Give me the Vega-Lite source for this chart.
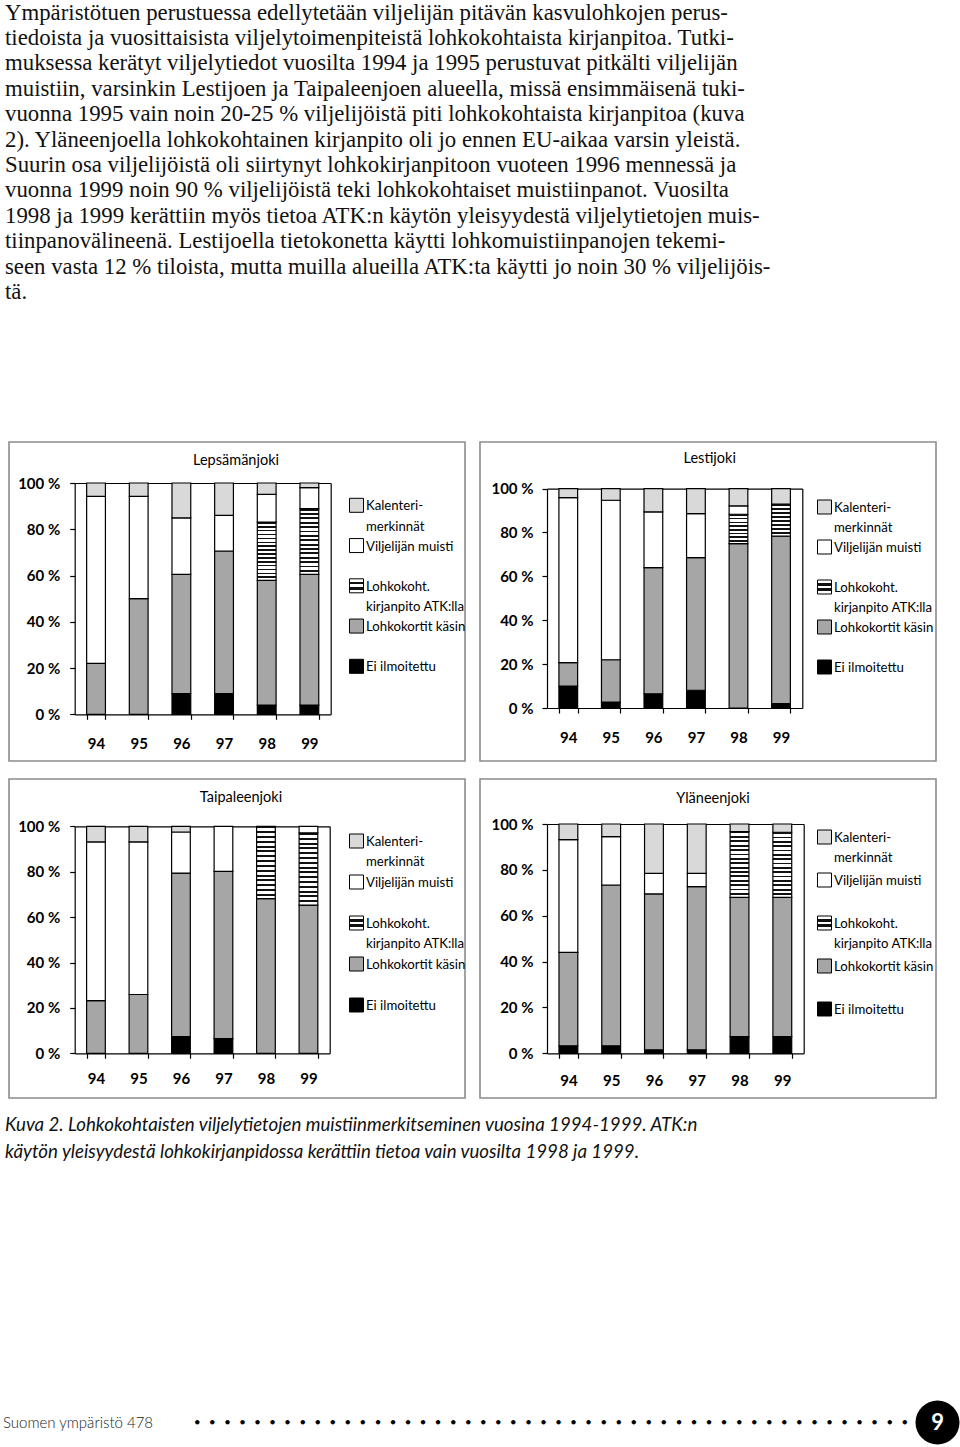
{
"$schema": "https://vega.github.io/schema/vega-lite/v6.json",
"background": "white",
"padding": {"left": 2, "top": 1, "right": 0, "bottom": 0},
"title": {"text": ["Ympäristötuen perustuessa edellytetään viljelijän pitävän kasvulohkojen perus-", "tiedoista ja vuosittaisista viljelytoimenpiteistä lohkokohtaista kirjanpitoa. Tutki-", "muksessa kerätyt viljelytiedot vuosilta 1994 ja 1995 perustuvat pitkälti viljelijän", "muistiin, varsinkin Lestijoen ja Taipaleenjoen alueella, missä ensimmäisenä tuki-", "vuonna 1995 vain noin 20-25 % viljelijöistä piti lohkokohtaista kirjanpitoa (kuva", "2). Yläneenjoella lohkokohtainen kirjanpito oli jo ennen EU-aikaa varsin yleistä.", "Suurin osa viljelijöistä oli siirtynyt lohkokirjanpitoon vuoteen 1996 mennessä ja", "vuonna 1999 noin 90 % viljelijöistä teki lohkokohtaiset muistiinpanot.  Vuosilta", "1998 ja 1999 kerättiin myös tietoa ATK:n käytön yleisyydestä viljelytietojen muis-", "tiinpanovälineenä. Lestijoella tietokonetta käytti lohkomuistiinpanojen tekemi-", "seen vasta 12 % tiloista, mutta muilla alueilla ATK:ta käytti jo noin 30 % viljelijöis-", "tä."], "anchor": "start", "orient": "top", "frame": "group", "baseline": "bottom", "offset": 114.4, "dx": -4, "font": "Liberation Serif", "fontSize": 22.8, "fontWeight": "normal", "lineHeight": 25.4, "color": "#111"},
"datasets": {
"bars": [
{"region": "Lepsämänjoki", "year": "94", "category": "Lohkokortit käsin", "order": 2, "pct": 22},
{"region": "Lepsämänjoki", "year": "94", "category": "Viljelijän muisti", "order": 4, "pct": 72.2},
{"region": "Lepsämänjoki", "year": "94", "category": "Kalenterimerkinnät", "order": 5, "pct": 5.8},
{"region": "Lepsämänjoki", "year": "95", "category": "Lohkokortit käsin", "order": 2, "pct": 50},
{"region": "Lepsämänjoki", "year": "95", "category": "Viljelijän muisti", "order": 4, "pct": 44.2},
{"region": "Lepsämänjoki", "year": "95", "category": "Kalenterimerkinnät", "order": 5, "pct": 5.8},
{"region": "Lepsämänjoki", "year": "96", "category": "Ei ilmoitettu", "order": 1, "pct": 9},
{"region": "Lepsämänjoki", "year": "96", "category": "Lohkokortit käsin", "order": 2, "pct": 51.5},
{"region": "Lepsämänjoki", "year": "96", "category": "Viljelijän muisti", "order": 4, "pct": 24.4},
{"region": "Lepsämänjoki", "year": "96", "category": "Kalenterimerkinnät", "order": 5, "pct": 15.1},
{"region": "Lepsämänjoki", "year": "97", "category": "Ei ilmoitettu", "order": 1, "pct": 9},
{"region": "Lepsämänjoki", "year": "97", "category": "Lohkokortit käsin", "order": 2, "pct": 61.6},
{"region": "Lepsämänjoki", "year": "97", "category": "Viljelijän muisti", "order": 4, "pct": 15.4},
{"region": "Lepsämänjoki", "year": "97", "category": "Kalenterimerkinnät", "order": 5, "pct": 14},
{"region": "Lepsämänjoki", "year": "98", "category": "Ei ilmoitettu", "order": 1, "pct": 4},
{"region": "Lepsämänjoki", "year": "98", "category": "Lohkokortit käsin", "order": 2, "pct": 53.9},
{"region": "Lepsämänjoki", "year": "98", "category": "Lohkokoht. kirjanpito ATK:lla", "order": 3, "pct": 25.2},
{"region": "Lepsämänjoki", "year": "98", "category": "Viljelijän muisti", "order": 4, "pct": 12},
{"region": "Lepsämänjoki", "year": "98", "category": "Kalenterimerkinnät", "order": 5, "pct": 4.9},
{"region": "Lepsämänjoki", "year": "99", "category": "Ei ilmoitettu", "order": 1, "pct": 4},
{"region": "Lepsämänjoki", "year": "99", "category": "Lohkokortit käsin", "order": 2, "pct": 56.5},
{"region": "Lepsämänjoki", "year": "99", "category": "Lohkokoht. kirjanpito ATK:lla", "order": 3, "pct": 28.4},
{"region": "Lepsämänjoki", "year": "99", "category": "Viljelijän muisti", "order": 4, "pct": 9.1},
{"region": "Lepsämänjoki", "year": "99", "category": "Kalenterimerkinnät", "order": 5, "pct": 2},
{"region": "Lestijoki", "year": "94", "category": "Ei ilmoitettu", "order": 1, "pct": 10},
{"region": "Lestijoki", "year": "94", "category": "Lohkokortit käsin", "order": 2, "pct": 10.7},
{"region": "Lestijoki", "year": "94", "category": "Viljelijän muisti", "order": 4, "pct": 75.2},
{"region": "Lestijoki", "year": "94", "category": "Kalenterimerkinnät", "order": 5, "pct": 4.1},
{"region": "Lestijoki", "year": "95", "category": "Ei ilmoitettu", "order": 1, "pct": 2.7},
{"region": "Lestijoki", "year": "95", "category": "Lohkokortit käsin", "order": 2, "pct": 19.3},
{"region": "Lestijoki", "year": "95", "category": "Viljelijän muisti", "order": 4, "pct": 72.7},
{"region": "Lestijoki", "year": "95", "category": "Kalenterimerkinnät", "order": 5, "pct": 5.3},
{"region": "Lestijoki", "year": "96", "category": "Ei ilmoitettu", "order": 1, "pct": 6.5},
{"region": "Lestijoki", "year": "96", "category": "Lohkokortit käsin", "order": 2, "pct": 57.5},
{"region": "Lestijoki", "year": "96", "category": "Viljelijän muisti", "order": 4, "pct": 25.4},
{"region": "Lestijoki", "year": "96", "category": "Kalenterimerkinnät", "order": 5, "pct": 10.6},
{"region": "Lestijoki", "year": "97", "category": "Ei ilmoitettu", "order": 1, "pct": 8.1},
{"region": "Lestijoki", "year": "97", "category": "Lohkokortit käsin", "order": 2, "pct": 60.4},
{"region": "Lestijoki", "year": "97", "category": "Viljelijän muisti", "order": 4, "pct": 20.1},
{"region": "Lestijoki", "year": "97", "category": "Kalenterimerkinnät", "order": 5, "pct": 11.4},
{"region": "Lestijoki", "year": "98", "category": "Lohkokortit käsin", "order": 2, "pct": 74.9},
{"region": "Lestijoki", "year": "98", "category": "Lohkokoht. kirjanpito ATK:lla", "order": 3, "pct": 13.4},
{"region": "Lestijoki", "year": "98", "category": "Viljelijän muisti", "order": 4, "pct": 3.8},
{"region": "Lestijoki", "year": "98", "category": "Kalenterimerkinnät", "order": 5, "pct": 7.9},
{"region": "Lestijoki", "year": "99", "category": "Ei ilmoitettu", "order": 1, "pct": 2},
{"region": "Lestijoki", "year": "99", "category": "Lohkokortit käsin", "order": 2, "pct": 76.3},
{"region": "Lestijoki", "year": "99", "category": "Lohkokoht. kirjanpito ATK:lla", "order": 3, "pct": 14.6},
{"region": "Lestijoki", "year": "99", "category": "Kalenterimerkinnät", "order": 5, "pct": 7.1},
{"region": "Taipaleenjoki", "year": "94", "category": "Lohkokortit käsin", "order": 2, "pct": 23.2},
{"region": "Taipaleenjoki", "year": "94", "category": "Viljelijän muisti", "order": 4, "pct": 69.9},
{"region": "Taipaleenjoki", "year": "94", "category": "Kalenterimerkinnät", "order": 5, "pct": 6.9},
{"region": "Taipaleenjoki", "year": "95", "category": "Lohkokortit käsin", "order": 2, "pct": 25.9},
{"region": "Taipaleenjoki", "year": "95", "category": "Viljelijän muisti", "order": 4, "pct": 67.2},
{"region": "Taipaleenjoki", "year": "95", "category": "Kalenterimerkinnät", "order": 5, "pct": 6.9},
{"region": "Taipaleenjoki", "year": "96", "category": "Ei ilmoitettu", "order": 1, "pct": 7.4},
{"region": "Taipaleenjoki", "year": "96", "category": "Lohkokortit käsin", "order": 2, "pct": 72},
{"region": "Taipaleenjoki", "year": "96", "category": "Viljelijän muisti", "order": 4, "pct": 18.1},
{"region": "Taipaleenjoki", "year": "96", "category": "Kalenterimerkinnät", "order": 5, "pct": 2.5},
{"region": "Taipaleenjoki", "year": "97", "category": "Ei ilmoitettu", "order": 1, "pct": 6.5},
{"region": "Taipaleenjoki", "year": "97", "category": "Lohkokortit käsin", "order": 2, "pct": 73.6},
{"region": "Taipaleenjoki", "year": "97", "category": "Viljelijän muisti", "order": 4, "pct": 19.9},
{"region": "Taipaleenjoki", "year": "98", "category": "Lohkokortit käsin", "order": 2, "pct": 68.1},
{"region": "Taipaleenjoki", "year": "98", "category": "Lohkokoht. kirjanpito ATK:lla", "order": 3, "pct": 31.9},
{"region": "Taipaleenjoki", "year": "99", "category": "Lohkokortit käsin", "order": 2, "pct": 65.3},
{"region": "Taipaleenjoki", "year": "99", "category": "Lohkokoht. kirjanpito ATK:lla", "order": 3, "pct": 31.8},
{"region": "Taipaleenjoki", "year": "99", "category": "Viljelijän muisti", "order": 4, "pct": 2.9},
{"region": "Yläneenjoki", "year": "94", "category": "Ei ilmoitettu", "order": 1, "pct": 3.3},
{"region": "Yläneenjoki", "year": "94", "category": "Lohkokortit käsin", "order": 2, "pct": 40.7},
{"region": "Yläneenjoki", "year": "94", "category": "Viljelijän muisti", "order": 4, "pct": 49.2},
{"region": "Yläneenjoki", "year": "94", "category": "Kalenterimerkinnät", "order": 5, "pct": 6.8},
{"region": "Yläneenjoki", "year": "95", "category": "Ei ilmoitettu", "order": 1, "pct": 3.3},
{"region": "Yläneenjoki", "year": "95", "category": "Lohkokortit käsin", "order": 2, "pct": 70.1},
{"region": "Yläneenjoki", "year": "95", "category": "Viljelijän muisti", "order": 4, "pct": 21.1},
{"region": "Yläneenjoki", "year": "95", "category": "Kalenterimerkinnät", "order": 5, "pct": 5.5},
{"region": "Yläneenjoki", "year": "96", "category": "Ei ilmoitettu", "order": 1, "pct": 1.5},
{"region": "Yläneenjoki", "year": "96", "category": "Lohkokortit käsin", "order": 2, "pct": 68},
{"region": "Yläneenjoki", "year": "96", "category": "Viljelijän muisti", "order": 4, "pct": 9},
{"region": "Yläneenjoki", "year": "96", "category": "Kalenterimerkinnät", "order": 5, "pct": 21.5},
{"region": "Yläneenjoki", "year": "97", "category": "Ei ilmoitettu", "order": 1, "pct": 1.5},
{"region": "Yläneenjoki", "year": "97", "category": "Lohkokortit käsin", "order": 2, "pct": 71.2},
{"region": "Yläneenjoki", "year": "97", "category": "Viljelijän muisti", "order": 4, "pct": 5.8},
{"region": "Yläneenjoki", "year": "97", "category": "Kalenterimerkinnät", "order": 5, "pct": 21.5},
{"region": "Yläneenjoki", "year": "98", "category": "Ei ilmoitettu", "order": 1, "pct": 7.3},
{"region": "Yläneenjoki", "year": "98", "category": "Lohkokortit käsin", "order": 2, "pct": 60.7},
{"region": "Yläneenjoki", "year": "98", "category": "Lohkokoht. kirjanpito ATK:lla", "order": 3, "pct": 28.7},
{"region": "Yläneenjoki", "year": "98", "category": "Kalenterimerkinnät", "order": 5, "pct": 3.3},
{"region": "Yläneenjoki", "year": "99", "category": "Ei ilmoitettu", "order": 1, "pct": 7.3},
{"region": "Yläneenjoki", "year": "99", "category": "Lohkokortit käsin", "order": 2, "pct": 60.7},
{"region": "Yläneenjoki", "year": "99", "category": "Lohkokoht. kirjanpito ATK:lla", "order": 3, "pct": 28.4},
{"region": "Yläneenjoki", "year": "99", "category": "Kalenterimerkinnät", "order": 5, "pct": 3.6}
],
"legend": [
{"category": "Kalenterimerkinnät", "label": "Kalenteri-\nmerkinnät"},
{"category": "Viljelijän muisti", "label": "Viljelijän muisti"},
{"category": "Lohkokoht. kirjanpito ATK:lla", "label": "Lohkokoht.\nkirjanpito ATK:lla"},
{"category": "Lohkokortit käsin", "label": "Lohkokortit käsin"},
{"category": "Ei ilmoitettu", "label": "Ei ilmoitettu"}
]
},
"spacing": 238,
"vconcat": [
{"spacing": 16, "vconcat": [
{"spacing": 15, "bounds": "flush", "hconcat": [
{
"width": 456, "height": 319,
"view": {"stroke": "#8c8c8c", "strokeWidth": 1.6},
"title": {"text": "Lepsämänjoki", "anchor": "middle", "frame": "group", "baseline": "middle", "offset": -18.3, "dy": 15.3, "dx": -1},
"resolve": {"scale": {"x": "independent", "y": "independent"}, "axis": {"x": "independent", "y": "independent"}},
"layer": [
{"data": {"name": "bars"},
"transform": [{"filter": "datum.region === 'Lepsämänjoki'"}, {"stack": "pct", "groupby": ["year"], "sort": [{"field": "order", "order": "ascending"}], "as": ["lo", "hi"]}],
"mark": {"type": "bar", "stroke": "#000", "strokeWidth": 1.2},
"encoding": {
"x": {"field": "year", "type": "ordinal", "scale": {"range": [65.7, 321.7], "paddingInner": 0.56, "paddingOuter": 0.28}, "axis": {"orient": "bottom", "offset": -46.7, "tickBand": "extent", "tickSize": 5, "labelPadding": 17.6, "labelAngle": 0, "title": null}},
"y": {"field": "hi", "type": "quantitative", "scale": {"domain": [0, 100], "range": [272.3, 41], "nice": false, "zero": false}, "axis": {"orient": "left", "offset": -65.7, "values": [0, 20, 40, 60, 80, 100], "labelExpr": "datum.value + ' %'", "tickSize": 5, "labelPadding": 10, "title": null}},
"y2": {"field": "lo"},
"fill": {"field": "category", "type": "nominal", "scale": {"domain": ["Kalenterimerkinnät", "Viljelijän muisti", "Lohkokoht. kirjanpito ATK:lla", "Lohkokortit käsin", "Ei ilmoitettu"], "range": ["#d9d9d9", "#ffffff", "#ffffff", "#a6a6a6", "#000000"]}, "legend": null,
"condition": {"test": "datum.category === 'Lohkokoht. kirjanpito ATK:lla'", "value": {"gradient": "linear", "x1": 0, "y1": 0, "x2": 0, "y2": 1, "stops": [{"offset":0,"color":"#111"},{"offset":0.028,"color":"#111"},{"offset":0.028,"color":"#fff"},{"offset":0.0667,"color":"#fff"},{"offset":0.0667,"color":"#111"},{"offset":0.0947,"color":"#111"},{"offset":0.0947,"color":"#fff"},{"offset":0.1333,"color":"#fff"},{"offset":0.1333,"color":"#111"},{"offset":0.1613,"color":"#111"},{"offset":0.1613,"color":"#fff"},{"offset":0.2,"color":"#fff"},{"offset":0.2,"color":"#111"},{"offset":0.228,"color":"#111"},{"offset":0.228,"color":"#fff"},{"offset":0.2667,"color":"#fff"},{"offset":0.2667,"color":"#111"},{"offset":0.2947,"color":"#111"},{"offset":0.2947,"color":"#fff"},{"offset":0.3333,"color":"#fff"},{"offset":0.3333,"color":"#111"},{"offset":0.3613,"color":"#111"},{"offset":0.3613,"color":"#fff"},{"offset":0.4,"color":"#fff"},{"offset":0.4,"color":"#111"},{"offset":0.428,"color":"#111"},{"offset":0.428,"color":"#fff"},{"offset":0.4667,"color":"#fff"},{"offset":0.4667,"color":"#111"},{"offset":0.4947,"color":"#111"},{"offset":0.4947,"color":"#fff"},{"offset":0.5333,"color":"#fff"},{"offset":0.5333,"color":"#111"},{"offset":0.5613,"color":"#111"},{"offset":0.5613,"color":"#fff"},{"offset":0.6,"color":"#fff"},{"offset":0.6,"color":"#111"},{"offset":0.628,"color":"#111"},{"offset":0.628,"color":"#fff"},{"offset":0.6667,"color":"#fff"},{"offset":0.6667,"color":"#111"},{"offset":0.6947,"color":"#111"},{"offset":0.6947,"color":"#fff"},{"offset":0.7333,"color":"#fff"},{"offset":0.7333,"color":"#111"},{"offset":0.7613,"color":"#111"},{"offset":0.7613,"color":"#fff"},{"offset":0.8,"color":"#fff"},{"offset":0.8,"color":"#111"},{"offset":0.828,"color":"#111"},{"offset":0.828,"color":"#fff"},{"offset":0.8667,"color":"#fff"},{"offset":0.8667,"color":"#111"},{"offset":0.8947,"color":"#111"},{"offset":0.8947,"color":"#fff"},{"offset":0.9333,"color":"#fff"},{"offset":0.9333,"color":"#111"},{"offset":0.9613,"color":"#111"},{"offset":0.9613,"color":"#fff"},{"offset":1,"color":"#fff"}]}}}
}},
{"data": {"name": "bars"},
"transform": [{"filter": "datum.region === 'Lepsämänjoki'"}],
"mark": {"type": "point", "opacity": 0},
"encoding": {
"x": {"field": "year", "type": "ordinal", "scale": {"range": [65.7, 321.7], "paddingInner": 0.56, "paddingOuter": 0.28}, "axis": {"orient": "top", "offset": -41, "ticks": false, "labels": false, "title": null}},
"y": {"field": "pct", "type": "quantitative", "scale": {"domain": [0, 100], "range": [272.3, 41], "nice": false, "zero": false}, "axis": {"orient": "right", "offset": -134.3, "ticks": false, "labels": false, "title": null}}
}},
{"data": {"name": "legend"},
"mark": {"type": "square", "size": 196, "stroke": "#000", "strokeWidth": 1, "opacity": 1},
"encoding": {
"x": {"value": 347.5},
"y": {"field": "category", "type": "nominal", "scale": {"type": "point", "domain": ["Kalenterimerkinnät", "Viljelijän muisti", "Lohkokoht. kirjanpito ATK:lla", "Lohkokortit käsin", "Ei ilmoitettu"], "range": [63.3, 224.3], "padding": 0}, "axis": null},
"fill": {"field": "category", "type": "nominal", "scale": {"domain": ["Kalenterimerkinnät", "Viljelijän muisti", "Lohkokoht. kirjanpito ATK:lla", "Lohkokortit käsin", "Ei ilmoitettu"], "range": ["#d9d9d9", "#ffffff", "#ffffff", "#a6a6a6", "#000000"]}, "legend": null,
"condition": {"test": "datum.category === 'Lohkokoht. kirjanpito ATK:lla'", "value": {"gradient": "linear", "x1": 0, "y1": 0, "x2": 0, "y2": 1, "stops": [{"offset":0,"color":"#fff"},{"offset":0.22,"color":"#fff"},{"offset":0.22,"color":"#111"},{"offset":0.4,"color":"#111"},{"offset":0.4,"color":"#fff"},{"offset":0.6,"color":"#fff"},{"offset":0.6,"color":"#111"},{"offset":0.78,"color":"#111"},{"offset":0.78,"color":"#fff"},{"offset":1,"color":"#fff"}]}}}
}},
{"data": {"name": "legend"},
"mark": {"type": "text", "align": "left", "baseline": "alphabetic", "dx": 9.5, "dy": 5, "lineBreak": "\n", "lineHeight": 20.3, "fontSize": 13.2},
"encoding": {
"x": {"value": 347.5},
"y": {"field": "category", "type": "nominal", "scale": {"type": "point", "domain": ["Kalenterimerkinnät", "Viljelijän muisti", "Lohkokoht. kirjanpito ATK:lla", "Lohkokortit käsin", "Ei ilmoitettu"], "range": [63.3, 224.3], "padding": 0}, "axis": null},
"text": {"field": "label"}
}}
]
},
{
"width": 456, "height": 319,
"view": {"stroke": "#8c8c8c", "strokeWidth": 1.6},
"title": {"text": "Lestijoki", "anchor": "middle", "frame": "group", "baseline": "middle", "offset": -16.3, "dy": 15.3, "dx": 1.7},
"resolve": {"scale": {"x": "independent", "y": "independent"}, "axis": {"x": "independent", "y": "independent"}},
"layer": [
{"data": {"name": "bars"},
"transform": [{"filter": "datum.region === 'Lestijoki'"}, {"stack": "pct", "groupby": ["year"], "sort": [{"field": "order", "order": "ascending"}], "as": ["lo", "hi"]}],
"mark": {"type": "bar", "stroke": "#000", "strokeWidth": 1.2},
"encoding": {
"x": {"field": "year", "type": "ordinal", "scale": {"range": [67, 322.3], "paddingInner": 0.56, "paddingOuter": 0.28}, "axis": {"orient": "bottom", "offset": -53, "tickBand": "extent", "tickSize": 5, "labelPadding": 17, "labelAngle": 0, "title": null}},
"y": {"field": "hi", "type": "quantitative", "scale": {"domain": [0, 100], "range": [266, 46.6], "nice": false, "zero": false}, "axis": {"orient": "left", "offset": -67, "values": [0, 20, 40, 60, 80, 100], "labelExpr": "datum.value + ' %'", "tickSize": 5, "labelPadding": 9, "title": null}},
"y2": {"field": "lo"},
"fill": {"field": "category", "type": "nominal", "scale": {"domain": ["Kalenterimerkinnät", "Viljelijän muisti", "Lohkokoht. kirjanpito ATK:lla", "Lohkokortit käsin", "Ei ilmoitettu"], "range": ["#d9d9d9", "#ffffff", "#ffffff", "#a6a6a6", "#000000"]}, "legend": null,
"condition": {"test": "datum.category === 'Lohkokoht. kirjanpito ATK:lla'", "value": {"gradient": "linear", "x1": 0, "y1": 0, "x2": 0, "y2": 1, "stops": [{"offset":0,"color":"#111"},{"offset":0.0525,"color":"#111"},{"offset":0.0525,"color":"#fff"},{"offset":0.125,"color":"#fff"},{"offset":0.125,"color":"#111"},{"offset":0.1775,"color":"#111"},{"offset":0.1775,"color":"#fff"},{"offset":0.25,"color":"#fff"},{"offset":0.25,"color":"#111"},{"offset":0.3025,"color":"#111"},{"offset":0.3025,"color":"#fff"},{"offset":0.375,"color":"#fff"},{"offset":0.375,"color":"#111"},{"offset":0.4275,"color":"#111"},{"offset":0.4275,"color":"#fff"},{"offset":0.5,"color":"#fff"},{"offset":0.5,"color":"#111"},{"offset":0.5525,"color":"#111"},{"offset":0.5525,"color":"#fff"},{"offset":0.625,"color":"#fff"},{"offset":0.625,"color":"#111"},{"offset":0.6775,"color":"#111"},{"offset":0.6775,"color":"#fff"},{"offset":0.75,"color":"#fff"},{"offset":0.75,"color":"#111"},{"offset":0.8025,"color":"#111"},{"offset":0.8025,"color":"#fff"},{"offset":0.875,"color":"#fff"},{"offset":0.875,"color":"#111"},{"offset":0.9275,"color":"#111"},{"offset":0.9275,"color":"#fff"},{"offset":1,"color":"#fff"}]}}}
}},
{"data": {"name": "bars"},
"transform": [{"filter": "datum.region === 'Lestijoki'"}],
"mark": {"type": "point", "opacity": 0},
"encoding": {
"x": {"field": "year", "type": "ordinal", "scale": {"range": [67, 322.3], "paddingInner": 0.56, "paddingOuter": 0.28}, "axis": {"orient": "top", "offset": -46.6, "ticks": false, "labels": false, "title": null}},
"y": {"field": "pct", "type": "quantitative", "scale": {"domain": [0, 100], "range": [266, 46.6], "nice": false, "zero": false}, "axis": {"orient": "right", "offset": -133.7, "ticks": false, "labels": false, "title": null}}
}},
{"data": {"name": "legend"},
"mark": {"type": "square", "size": 196, "stroke": "#000", "strokeWidth": 1, "opacity": 1},
"encoding": {
"x": {"value": 344.5},
"y": {"field": "category", "type": "nominal", "scale": {"type": "point", "domain": ["Kalenterimerkinnät", "Viljelijän muisti", "Lohkokoht. kirjanpito ATK:lla", "Lohkokortit käsin", "Ei ilmoitettu"], "range": [65, 225], "padding": 0}, "axis": null},
"fill": {"field": "category", "type": "nominal", "scale": {"domain": ["Kalenterimerkinnät", "Viljelijän muisti", "Lohkokoht. kirjanpito ATK:lla", "Lohkokortit käsin", "Ei ilmoitettu"], "range": ["#d9d9d9", "#ffffff", "#ffffff", "#a6a6a6", "#000000"]}, "legend": null,
"condition": {"test": "datum.category === 'Lohkokoht. kirjanpito ATK:lla'", "value": {"gradient": "linear", "x1": 0, "y1": 0, "x2": 0, "y2": 1, "stops": [{"offset":0,"color":"#fff"},{"offset":0.22,"color":"#fff"},{"offset":0.22,"color":"#111"},{"offset":0.4,"color":"#111"},{"offset":0.4,"color":"#fff"},{"offset":0.6,"color":"#fff"},{"offset":0.6,"color":"#111"},{"offset":0.78,"color":"#111"},{"offset":0.78,"color":"#fff"},{"offset":1,"color":"#fff"}]}}}
}},
{"data": {"name": "legend"},
"mark": {"type": "text", "align": "left", "baseline": "alphabetic", "dx": 9.5, "dy": 5, "lineBreak": "\n", "lineHeight": 20.3, "fontSize": 13.2},
"encoding": {
"x": {"value": 344.5},
"y": {"field": "category", "type": "nominal", "scale": {"type": "point", "domain": ["Kalenterimerkinnät", "Viljelijän muisti", "Lohkokoht. kirjanpito ATK:lla", "Lohkokortit käsin", "Ei ilmoitettu"], "range": [65, 225], "padding": 0}, "axis": null},
"text": {"field": "label"}
}}
]
}
]},
{"spacing": 15, "bounds": "flush",
"title": {"text": ["Kuva 2. Lohkokohtaisten viljelytietojen muistiinmerkitseminen vuosina 1994-1999. ATK:n", "käytön yleisyydestä lohkokirjanpidossa kerättiin tietoa vain vuosilta 1998 ja 1999."], "orient": "bottom", "anchor": "start", "frame": "group", "baseline": "top", "offset": 17, "dx": -4, "font": "Lato", "fontStyle": "italic", "fontSize": 18.7, "fontWeight": "normal", "lineHeight": 27, "color": "#111"},
"hconcat": [
{
"width": 456, "height": 319,
"view": {"stroke": "#8c8c8c", "strokeWidth": 1.6},
"title": {"text": "Taipaleenjoki", "anchor": "middle", "frame": "group", "baseline": "middle", "offset": -18.3, "dy": 15.3, "dx": 4},
"resolve": {"scale": {"x": "independent", "y": "independent"}, "axis": {"x": "independent", "y": "independent"}},
"layer": [
{"data": {"name": "bars"},
"transform": [{"filter": "datum.region === 'Taipaleenjoki'"}, {"stack": "pct", "groupby": ["year"], "sort": [{"field": "order", "order": "ascending"}], "as": ["lo", "hi"]}],
"mark": {"type": "bar", "stroke": "#000", "strokeWidth": 1.2},
"encoding": {
"x": {"field": "year", "type": "ordinal", "scale": {"range": [65.7, 320.7], "paddingInner": 0.56, "paddingOuter": 0.28}, "axis": {"orient": "bottom", "offset": -44.7, "tickBand": "extent", "tickSize": 5, "labelPadding": 13.3, "labelAngle": 0, "title": null}},
"y": {"field": "hi", "type": "quantitative", "scale": {"domain": [0, 100], "range": [274.3, 47.3], "nice": false, "zero": false}, "axis": {"orient": "left", "offset": -65.7, "values": [0, 20, 40, 60, 80, 100], "labelExpr": "datum.value + ' %'", "tickSize": 5, "labelPadding": 10, "title": null}},
"y2": {"field": "lo"},
"fill": {"field": "category", "type": "nominal", "scale": {"domain": ["Kalenterimerkinnät", "Viljelijän muisti", "Lohkokoht. kirjanpito ATK:lla", "Lohkokortit käsin", "Ei ilmoitettu"], "range": ["#d9d9d9", "#ffffff", "#ffffff", "#a6a6a6", "#000000"]}, "legend": null,
"condition": {"test": "datum.category === 'Lohkokoht. kirjanpito ATK:lla'", "value": {"gradient": "linear", "x1": 0, "y1": 0, "x2": 0, "y2": 1, "stops": [{"offset":0,"color":"#111"},{"offset":0.028,"color":"#111"},{"offset":0.028,"color":"#fff"},{"offset":0.0667,"color":"#fff"},{"offset":0.0667,"color":"#111"},{"offset":0.0947,"color":"#111"},{"offset":0.0947,"color":"#fff"},{"offset":0.1333,"color":"#fff"},{"offset":0.1333,"color":"#111"},{"offset":0.1613,"color":"#111"},{"offset":0.1613,"color":"#fff"},{"offset":0.2,"color":"#fff"},{"offset":0.2,"color":"#111"},{"offset":0.228,"color":"#111"},{"offset":0.228,"color":"#fff"},{"offset":0.2667,"color":"#fff"},{"offset":0.2667,"color":"#111"},{"offset":0.2947,"color":"#111"},{"offset":0.2947,"color":"#fff"},{"offset":0.3333,"color":"#fff"},{"offset":0.3333,"color":"#111"},{"offset":0.3613,"color":"#111"},{"offset":0.3613,"color":"#fff"},{"offset":0.4,"color":"#fff"},{"offset":0.4,"color":"#111"},{"offset":0.428,"color":"#111"},{"offset":0.428,"color":"#fff"},{"offset":0.4667,"color":"#fff"},{"offset":0.4667,"color":"#111"},{"offset":0.4947,"color":"#111"},{"offset":0.4947,"color":"#fff"},{"offset":0.5333,"color":"#fff"},{"offset":0.5333,"color":"#111"},{"offset":0.5613,"color":"#111"},{"offset":0.5613,"color":"#fff"},{"offset":0.6,"color":"#fff"},{"offset":0.6,"color":"#111"},{"offset":0.628,"color":"#111"},{"offset":0.628,"color":"#fff"},{"offset":0.6667,"color":"#fff"},{"offset":0.6667,"color":"#111"},{"offset":0.6947,"color":"#111"},{"offset":0.6947,"color":"#fff"},{"offset":0.7333,"color":"#fff"},{"offset":0.7333,"color":"#111"},{"offset":0.7613,"color":"#111"},{"offset":0.7613,"color":"#fff"},{"offset":0.8,"color":"#fff"},{"offset":0.8,"color":"#111"},{"offset":0.828,"color":"#111"},{"offset":0.828,"color":"#fff"},{"offset":0.8667,"color":"#fff"},{"offset":0.8667,"color":"#111"},{"offset":0.8947,"color":"#111"},{"offset":0.8947,"color":"#fff"},{"offset":0.9333,"color":"#fff"},{"offset":0.9333,"color":"#111"},{"offset":0.9613,"color":"#111"},{"offset":0.9613,"color":"#fff"},{"offset":1,"color":"#fff"}]}}}
}},
{"data": {"name": "bars"},
"transform": [{"filter": "datum.region === 'Taipaleenjoki'"}],
"mark": {"type": "point", "opacity": 0},
"encoding": {
"x": {"field": "year", "type": "ordinal", "scale": {"range": [65.7, 320.7], "paddingInner": 0.56, "paddingOuter": 0.28}, "axis": {"orient": "top", "offset": -47.3, "ticks": false, "labels": false, "title": null}},
"y": {"field": "pct", "type": "quantitative", "scale": {"domain": [0, 100], "range": [274.3, 47.3], "nice": false, "zero": false}, "axis": {"orient": "right", "offset": -135.3, "ticks": false, "labels": false, "title": null}}
}},
{"data": {"name": "legend"},
"mark": {"type": "square", "size": 196, "stroke": "#000", "strokeWidth": 1, "opacity": 1},
"encoding": {
"x": {"value": 347.5},
"y": {"field": "category", "type": "nominal", "scale": {"type": "point", "domain": ["Kalenterimerkinnät", "Viljelijän muisti", "Lohkokoht. kirjanpito ATK:lla", "Lohkokortit käsin", "Ei ilmoitettu"], "range": [62, 226], "padding": 0}, "axis": null},
"fill": {"field": "category", "type": "nominal", "scale": {"domain": ["Kalenterimerkinnät", "Viljelijän muisti", "Lohkokoht. kirjanpito ATK:lla", "Lohkokortit käsin", "Ei ilmoitettu"], "range": ["#d9d9d9", "#ffffff", "#ffffff", "#a6a6a6", "#000000"]}, "legend": null,
"condition": {"test": "datum.category === 'Lohkokoht. kirjanpito ATK:lla'", "value": {"gradient": "linear", "x1": 0, "y1": 0, "x2": 0, "y2": 1, "stops": [{"offset":0,"color":"#fff"},{"offset":0.22,"color":"#fff"},{"offset":0.22,"color":"#111"},{"offset":0.4,"color":"#111"},{"offset":0.4,"color":"#fff"},{"offset":0.6,"color":"#fff"},{"offset":0.6,"color":"#111"},{"offset":0.78,"color":"#111"},{"offset":0.78,"color":"#fff"},{"offset":1,"color":"#fff"}]}}}
}},
{"data": {"name": "legend"},
"mark": {"type": "text", "align": "left", "baseline": "alphabetic", "dx": 9.5, "dy": 5, "lineBreak": "\n", "lineHeight": 20.3, "fontSize": 13.2},
"encoding": {
"x": {"value": 347.5},
"y": {"field": "category", "type": "nominal", "scale": {"type": "point", "domain": ["Kalenterimerkinnät", "Viljelijän muisti", "Lohkokoht. kirjanpito ATK:lla", "Lohkokortit käsin", "Ei ilmoitettu"], "range": [62, 226], "padding": 0}, "axis": null},
"text": {"field": "label"}
}}
]
},
{
"width": 456, "height": 319,
"view": {"stroke": "#8c8c8c", "strokeWidth": 1.6},
"title": {"text": "Yläneenjoki", "anchor": "middle", "frame": "group", "baseline": "middle", "offset": -19.3, "dy": 15.3, "dx": 5},
"resolve": {"scale": {"x": "independent", "y": "independent"}, "axis": {"x": "independent", "y": "independent"}},
"layer": [
{"data": {"name": "bars"},
"transform": [{"filter": "datum.region === 'Yläneenjoki'"}, {"stack": "pct", "groupby": ["year"], "sort": [{"field": "order", "order": "ascending"}], "as": ["lo", "hi"]}],
"mark": {"type": "bar", "stroke": "#000", "strokeWidth": 1.2},
"encoding": {
"x": {"field": "year", "type": "ordinal", "scale": {"range": [67, 323.7], "paddingInner": 0.56, "paddingOuter": 0.28}, "axis": {"orient": "bottom", "offset": -44.7, "tickBand": "extent", "tickSize": 5, "labelPadding": 15.6, "labelAngle": 0, "title": null}},
"y": {"field": "hi", "type": "quantitative", "scale": {"domain": [0, 100], "range": [274.3, 45], "nice": false, "zero": false}, "axis": {"orient": "left", "offset": -67, "values": [0, 20, 40, 60, 80, 100], "labelExpr": "datum.value + ' %'", "tickSize": 5, "labelPadding": 9, "title": null}},
"y2": {"field": "lo"},
"fill": {"field": "category", "type": "nominal", "scale": {"domain": ["Kalenterimerkinnät", "Viljelijän muisti", "Lohkokoht. kirjanpito ATK:lla", "Lohkokortit käsin", "Ei ilmoitettu"], "range": ["#d9d9d9", "#ffffff", "#ffffff", "#a6a6a6", "#000000"]}, "legend": null,
"condition": {"test": "datum.category === 'Lohkokoht. kirjanpito ATK:lla'", "value": {"gradient": "linear", "x1": 0, "y1": 0, "x2": 0, "y2": 1, "stops": [{"offset":0,"color":"#111"},{"offset":0.028,"color":"#111"},{"offset":0.028,"color":"#fff"},{"offset":0.0667,"color":"#fff"},{"offset":0.0667,"color":"#111"},{"offset":0.0947,"color":"#111"},{"offset":0.0947,"color":"#fff"},{"offset":0.1333,"color":"#fff"},{"offset":0.1333,"color":"#111"},{"offset":0.1613,"color":"#111"},{"offset":0.1613,"color":"#fff"},{"offset":0.2,"color":"#fff"},{"offset":0.2,"color":"#111"},{"offset":0.228,"color":"#111"},{"offset":0.228,"color":"#fff"},{"offset":0.2667,"color":"#fff"},{"offset":0.2667,"color":"#111"},{"offset":0.2947,"color":"#111"},{"offset":0.2947,"color":"#fff"},{"offset":0.3333,"color":"#fff"},{"offset":0.3333,"color":"#111"},{"offset":0.3613,"color":"#111"},{"offset":0.3613,"color":"#fff"},{"offset":0.4,"color":"#fff"},{"offset":0.4,"color":"#111"},{"offset":0.428,"color":"#111"},{"offset":0.428,"color":"#fff"},{"offset":0.4667,"color":"#fff"},{"offset":0.4667,"color":"#111"},{"offset":0.4947,"color":"#111"},{"offset":0.4947,"color":"#fff"},{"offset":0.5333,"color":"#fff"},{"offset":0.5333,"color":"#111"},{"offset":0.5613,"color":"#111"},{"offset":0.5613,"color":"#fff"},{"offset":0.6,"color":"#fff"},{"offset":0.6,"color":"#111"},{"offset":0.628,"color":"#111"},{"offset":0.628,"color":"#fff"},{"offset":0.6667,"color":"#fff"},{"offset":0.6667,"color":"#111"},{"offset":0.6947,"color":"#111"},{"offset":0.6947,"color":"#fff"},{"offset":0.7333,"color":"#fff"},{"offset":0.7333,"color":"#111"},{"offset":0.7613,"color":"#111"},{"offset":0.7613,"color":"#fff"},{"offset":0.8,"color":"#fff"},{"offset":0.8,"color":"#111"},{"offset":0.828,"color":"#111"},{"offset":0.828,"color":"#fff"},{"offset":0.8667,"color":"#fff"},{"offset":0.8667,"color":"#111"},{"offset":0.8947,"color":"#111"},{"offset":0.8947,"color":"#fff"},{"offset":0.9333,"color":"#fff"},{"offset":0.9333,"color":"#111"},{"offset":0.9613,"color":"#111"},{"offset":0.9613,"color":"#fff"},{"offset":1,"color":"#fff"}]}}}
}},
{"data": {"name": "bars"},
"transform": [{"filter": "datum.region === 'Yläneenjoki'"}],
"mark": {"type": "point", "opacity": 0},
"encoding": {
"x": {"field": "year", "type": "ordinal", "scale": {"range": [67, 323.7], "paddingInner": 0.56, "paddingOuter": 0.28}, "axis": {"orient": "top", "offset": -45, "ticks": false, "labels": false, "title": null}},
"y": {"field": "pct", "type": "quantitative", "scale": {"domain": [0, 100], "range": [274.3, 45], "nice": false, "zero": false}, "axis": {"orient": "right", "offset": -132.3, "ticks": false, "labels": false, "title": null}}
}},
{"data": {"name": "legend"},
"mark": {"type": "square", "size": 196, "stroke": "#000", "strokeWidth": 1, "opacity": 1},
"encoding": {
"x": {"value": 344.5},
"y": {"field": "category", "type": "nominal", "scale": {"type": "point", "domain": ["Kalenterimerkinnät", "Viljelijän muisti", "Lohkokoht. kirjanpito ATK:lla", "Lohkokortit käsin", "Ei ilmoitettu"], "range": [58, 230], "padding": 0}, "axis": null},
"fill": {"field": "category", "type": "nominal", "scale": {"domain": ["Kalenterimerkinnät", "Viljelijän muisti", "Lohkokoht. kirjanpito ATK:lla", "Lohkokortit käsin", "Ei ilmoitettu"], "range": ["#d9d9d9", "#ffffff", "#ffffff", "#a6a6a6", "#000000"]}, "legend": null,
"condition": {"test": "datum.category === 'Lohkokoht. kirjanpito ATK:lla'", "value": {"gradient": "linear", "x1": 0, "y1": 0, "x2": 0, "y2": 1, "stops": [{"offset":0,"color":"#fff"},{"offset":0.22,"color":"#fff"},{"offset":0.22,"color":"#111"},{"offset":0.4,"color":"#111"},{"offset":0.4,"color":"#fff"},{"offset":0.6,"color":"#fff"},{"offset":0.6,"color":"#111"},{"offset":0.78,"color":"#111"},{"offset":0.78,"color":"#fff"},{"offset":1,"color":"#fff"}]}}}
}},
{"data": {"name": "legend"},
"mark": {"type": "text", "align": "left", "baseline": "alphabetic", "dx": 9.5, "dy": 5, "lineBreak": "\n", "lineHeight": 20.3, "fontSize": 13.2},
"encoding": {
"x": {"value": 344.5},
"y": {"field": "category", "type": "nominal", "scale": {"type": "point", "domain": ["Kalenterimerkinnät", "Viljelijän muisti", "Lohkokoht. kirjanpito ATK:lla", "Lohkokortit käsin", "Ei ilmoitettu"], "range": [58, 230], "padding": 0}, "axis": null},
"text": {"field": "label"}
}}
]
}
]}
]},
{"spacing": 32, "hconcat": [
{"width": 150, "height": 45, "data": {"values": [{"t": "Suomen ympäristö 478"}]}, "mark": {"type": "text", "font": "Lato", "fontWeight": 300, "fontSize": 15, "dx": -6, "color": "#222"}, "encoding": {"text": {"field": "t"}}},
{"spacing": 4, "hconcat": [
{"width": 720, "height": 45, "data": {"values": [{"t": "• • • • • • • • • • • • • • • • • • • • • • • • • • • • • • • • • • • • • • • • • • • • • • • •"}]}, "mark": {"type": "text", "font": "DejaVu Sans Mono", "fontSize": 12.5, "fontWeight": "bold", "color": "#000"}, "encoding": {"text": {"field": "t"}}},
{"width": 45, "height": 45, "data": {"values": [{"page": "9"}]}, "layer": [
{"mark": {"type": "point", "shape": "circle", "size": 1936, "filled": true, "color": "#000", "opacity": 1}, "encoding": {}},
{"mark": {"type": "text", "font": "Lato", "fontWeight": "bold", "fontSize": 22, "color": "#fff"}, "encoding": {"text": {"field": "page"}}}
]}
]}
]}
],
"config": {
"view": {"stroke": null},
"font": "Lato",
"axis": {"labelFont": "Lato", "labelFontSize": 15, "labelFontWeight": "bold", "labelColor": "#000", "domainColor": "#000", "tickColor": "#000", "domainWidth": 1.2, "tickWidth": 1.2, "grid": false},
"title": {"font": "Lato", "fontSize": 14.5, "fontWeight": "normal", "color": "#000"},
"text": {"font": "Lato", "color": "#000"}
}
}
